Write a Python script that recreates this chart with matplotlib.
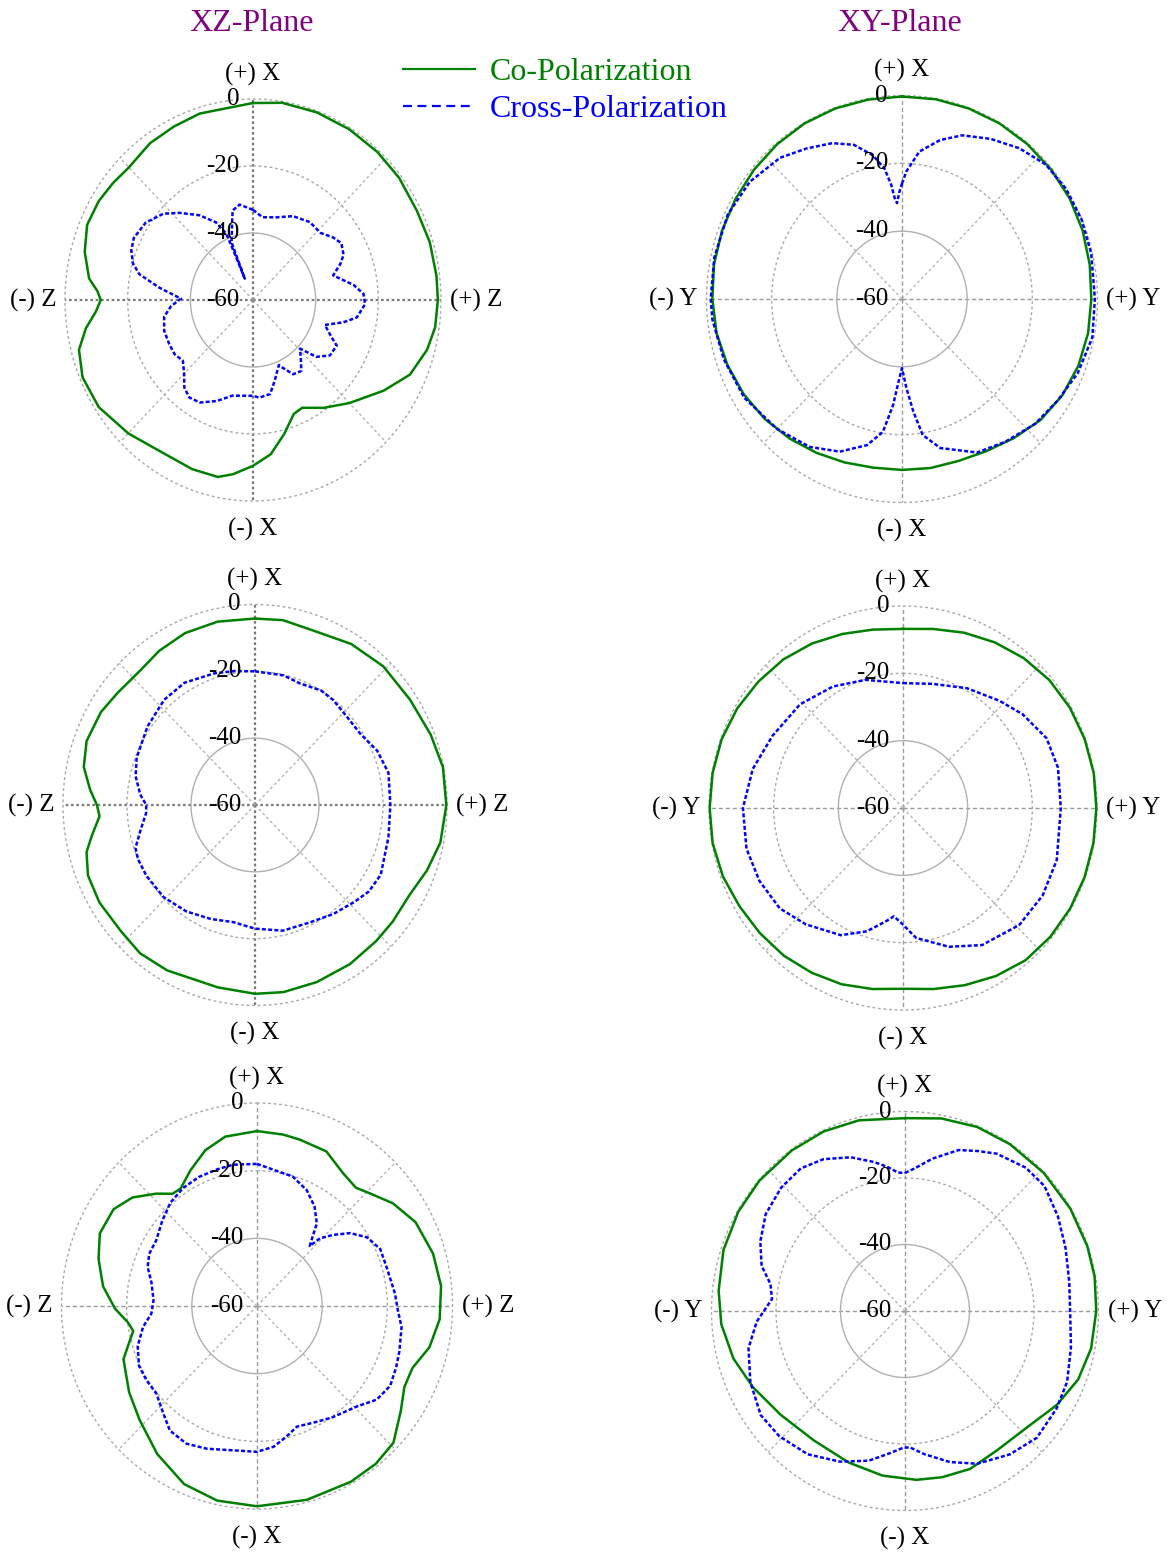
import numpy as np
import matplotlib
matplotlib.use("Agg")
import matplotlib.pyplot as plt
from matplotlib.lines import Line2D
from matplotlib.transforms import offset_copy

plt.rcParams['font.family'] = ['Liberation Serif', 'DejaVu Serif']

# ---------------------------------------------------------------- data (dB)
# angles in degrees, measured clockwise from the (+) X direction
xz1_co_deg = [0, 9, 20, 31, 42, 52, 63, 73, 83, 90, 98, 105, 114, 123, 135, 145, 154, 159, 166, 173,
              180, 187, 192, 201, 214, 225, 237, 247, 255, 261, 266, 270, 273, 277, 285, 293, 301, 308,
              315, 325, 334, 343, 354]
xz1_co_db = [-1.2, -0.4, -0.4, -0.5, -0.6, -0.8, -1.3, -1.0, -1.0, -1.0, -1.3, -2.5, -5.2, -10.3, -16.5,
             -20.7, -24.2, -23.6, -18.8, -13.6, -10.5, -7.6, -6.0, -5.9, -5.9, -3.7, -1.3, -0.9, -2.5,
             -6.0, -9.7, -11.4, -10.3, -7.3, -4.4, -2.5, -2.6, -3.3, -4.0, -2.8, -2.4, -1.8, -2.0]
xz1_cx_deg = [0, 7, 17, 27, 38, 47, 54, 59, 65, 69, 74, 82, 87, 92, 99, 103, 108, 114, 117, 124, 130,
              134, 140, 144, 150, 155, 157, 164, 169, 176, 180, 193, 201, 209, 215, 220, 225, 231, 237,
              244, 252, 260, 266, 271, 277, 282, 286, 291, 296, 304, 312, 318, 326, 333, 336.7, 337.2,
              337.6, 338.3, 342.8, 346.3, 351.5]
xz1_cx_db = [-33.1, -35.1, -34.2, -31.9, -30.5, -30.6, -28.3, -27.1, -28.1, -30.2, -33.4, -27.6, -24.7,
             -24.2, -26.5, -30.4, -35.9, -32.5, -30.0, -30.4, -33.6, -39.1, -36.2, -33.8, -34.4, -37.7,
             -38.9, -34.9, -31.4, -30.8, -31.4, -30.7, -27.7, -25.0, -24.5, -25.9, -28.9, -31.2, -30.2,
             -30.2, -30.2, -31.2, -33.8, -37.0, -29.9, -22.9, -20.1, -18.4, -17.7, -18.7, -21.5, -25.0,
             -29.5, -34.0, -38.5, -46.2, -53.1, -41.5, -37.3, -32.5, -31.2]

xy1_co_deg = list(range(0, 360, 10))
xy1_co_db = [-0.3, -0.2, -0.2, -0.2, -0.3, -0.4, -0.6, -1.0, -1.5, -1.9, -2.0, -2.4, -3.2, -4.5, -6.5,
             -8.2, -9.2, -9.4, -9.6, -9.5, -8.7, -7.6, -6.3, -5.0, -3.9, -3.0, -2.2, -1.8, -1.4, -1.2,
             -1.0, -0.7, -0.4, -0.2, -0.2, -0.3]
xy1_cx_deg = [0, 2, 7, 14, 21, 30, 39, 48, 57, 67, 77, 90, 101, 112, 122, 132, 143, 153, 165, 171, 174,
              177, 180, 182, 185, 188.5, 194, 203, 213, 225, 239, 252, 264, 270, 282, 295, 306.5, 318,
              326.5, 335, 342, 348, 352, 354.4, 355.7, 356.9, 358.5]
xy1_cx_db = [-26.0, -22.4, -16.2, -11.7, -8.3, -5.5, -2.8, -0.7, -0.1, -0.1, -0.4, -0.8, -0.5, -1.8,
             -3.6, -5.0, -7.3, -9.2, -14.5, -19.4, -26.6, -33.6, -39.6, -36.6, -28.6, -20.4, -15.6,
             -11.1, -8.0, -5.8, -3.5, -2.5, -1.5, -1.3, -1.1, -1.0, -1.9, -4.0, -6.8, -9.3, -12.2,
             -16.6, -21.1, -26.2, -30.2, -31.7, -28.5]

xz2_co_deg = [0, 9, 20, 32, 44, 57, 69, 79, 90, 101, 110, 119, 129, 137, 148, 160, 171, 180, 192, 209,
              219, 228, 239, 248, 255, 260, 266, 270, 275, 282, 290, 300, 308, 318, 327, 337, 348]
xz2_co_db = [-4.2, -4.0, -4.7, -3.2, -2.3, -2.2, -1.2, -0.2, -0.2, -1.0, -2.8, -4.7, -4.6, -4.4, -3.9,
             -3.6, -3.3, -3.5, -4.2, -3.4, -2.9, -3.6, -3.3, -3.7, -5.5, -8.3, -11.3, -10.6, -8.3, -5.3,
             -4.0, -4.4, -5.5, -6.1, -5.0, -4.1, -3.9]
xz2_cx_deg = [0, 13, 21, 31, 38, 48, 57, 67, 77, 90, 103, 118, 126, 133, 143, 154, 167, 180, 191, 202,
              214, 226, 238, 246, 251, 258, 266, 270, 275, 283, 291, 305, 318, 329, 342, 351]
xz2_cx_db = [-20.0, -20.2, -21.0, -20.0, -20.2, -21.0, -20.8, -18.5, -17.2, -17.7, -17.2, -15.5, -16.0,
             -17.5, -19.2, -20.9, -21.4, -23.0, -24.3, -23.2, -21.6, -20.3, -20.0, -20.0, -20.5, -23.4,
             -25.9, -26.0, -24.0, -21.7, -20.4, -19.0, -17.6, -17.3, -18.6, -19.4]

xy2_co_deg = list(range(0, 360, 10))
xy2_co_db = [-6.8, -6.0, -4.6, -3.2, -1.9, -0.9, -0.4, -0.2, -0.1, -0.2, -0.2, -0.2, -0.3, -0.5, -1.0,
             -2.4, -4.0, -5.4, -6.3, -5.4, -4.3, -3.5, -2.7, -2.2, -1.6, -0.7, -0.2, -0.2, -0.2, -0.3,
             -0.8, -1.6, -2.4, -3.6, -5.0, -6.2]
xy2_cx_deg = [0, 14, 29, 43, 53, 65, 76, 90, 108, 121, 134, 149, 161, 174, 181, 185, 189, 197, 207, 221,
              232, 244, 256, 270, 284, 298, 314, 329, 343]
xy2_cx_db = [-22.9, -22.0, -19.3, -16.4, -13.7, -11.0, -10.6, -11.2, -10.0, -9.6, -10.0, -12.5, -16.4,
             -21.2, -25.9, -27.7, -25.9, -21.7, -17.6, -14.2, -11.6, -10.6, -10.1, -10.5, -12.1, -14.3,
             -15.7, -17.9, -20.2]

xz3_co_deg = [0, 9, 15, 25, 34, 41, 46, 54, 63, 74, 84, 94, 103, 111, 118, 125, 134, 142, 151, 165,
              180, 192, 203, 215, 227, 237, 249, 254, 259, 263, 269, 277, 286, 294, 303, 310, 317, 322,
              326, 333, 341, 349]
xz3_co_db = [-8.3, -8.7, -9.1, -9.6, -12.7, -13.7, -12.0, -8.4, -5.4, -3.8, -3.2, -3.8, -5.7, -8.9, -8.8,
             -6.1, -1.8, -0.8, -0.6, -0.7, -0.8, -1.2, -2.8, -6.6, -10.7, -13.2, -16.1, -19.0, -21.3,
             -20.1, -16.4, -12.4, -9.4, -7.2, -7.5, -10.1, -14.6, -17.9, -18.1, -15.0, -11.3, -9.0]
xz3_cx_deg = [0, 16, 24, 31, 37, 39, 42.4, 44, 48, 53, 59, 66, 74, 85, 92, 98, 107, 113, 120, 127, 134,
              145, 152, 161, 167, 173, 180, 190, 200, 208, 216, 222, 230, 237, 244, 252, 260, 266, 273,
              282, 289, 295, 302, 311, 319, 327, 335, 343, 350]
xz3_cx_db = [-18.0, -20.2, -22.5, -25.7, -29.5, -32.4, -36.0, -32.2, -28.6, -24.2, -20.6, -18.6, -18.6,
             -17.5, -16.7, -15.2, -14.3, -13.6, -12.8, -14.0, -17.3, -19.8, -21.2, -22.3, -20.3, -18.1,
             -16.9, -16.7, -15.1, -13.9, -14.5, -17.1, -19.7, -19.6, -19.7, -21.5, -24.5, -27.5, -28.2,
             -26.9, -24.5, -23.5, -23.5, -21.5, -19.5, -18.4, -17.9, -17.8, -17.6]

xy3_co_deg = [0, 11, 22, 33, 46, 59, 71, 80, 90, 101, 111, 121, 133, 146, 157, 167, 176, 188, 201, 216,
              231, 244, 255, 266, 276, 288, 300, 311, 324, 335, 346]
xy3_co_db = [-2.0, -1.0, -0.3, -0.2, -0.2, -0.2, -0.2, -0.3, -0.7, -1.2, -2.5, -5.1, -8.5, -9.3, -8.4,
             -8.7, -9.1, -10.0, -11.2, -11.9, -10.4, -7.6, -4.9, -2.9, -1.9, -0.8, -0.3, -0.2, -0.3,
             -0.4, -0.9]
xy3_cx_deg = [0, 4, 10.5, 19, 25, 31, 41, 49, 59, 69, 80, 90, 102, 113, 122, 133, 143, 154, 163, 172,
              178, 181, 187, 194, 204, 215, 226, 235, 246, 257, 266, 275, 281, 287, 295, 304, 314, 323,
              331, 340, 348, 353, 357]
xy3_cx_db = [-18.5, -17.0, -13.4, -8.8, -6.9, -4.8, -2.9, -2.7, -4.7, -6.7, -8.3, -8.8, -7.4, -5.4, -4.6,
             -4.1, -6.0, -8.9, -12.5, -16.5, -19.0, -18.8, -16.7, -13.6, -10.4, -7.4, -5.8, -5.4, -7.5,
             -10.2, -13.9, -18.6, -17.5, -13.5, -10.5, -7.9, -6.6, -6.3, -7.8, -10.8, -14.2, -16.4, -18.3]

r_ticks = [0, -20, -40, -60]
r_tick_labels = ['0', '-20', '-40', '-60']
xz_dirs = ['(+) X', '(+) Z', '(-) X', '(-) Z']
xy_dirs = ['(+) X', '(+) Y', '(-) X', '(-) Y']
plane_titles = ['XZ-Plane', 'XY-Plane']
legend_labels = ['Co-Polarization', 'Cross-Polarization']

# ---------------------------------------------------------------- styling
W, H = 1167, 1555
CO_COLOR = '#008000'
CX_COLOR = '#0000ff'
TITLE_COLOR = '#800080'
CX_DASH = (0, (1.6, 0.9))
LABEL_SIZE = 18

fig = plt.figure(figsize=(W / 100, H / 100), dpi=100)
fig.patch.set_facecolor('white')

# centre x, centre y, half width, half height (pixels), heavy cardinal lines
layout = [
    (253, 300, 188, 201, True),
    (902, 299, 195.5, 203.5, False),
    (255, 805, 192, 200.5, True),
    (903, 808, 194, 202, False),
    (257, 1306, 195.5, 203, False),
    (905, 1311, 193.5, 199.5, False),
]

series = [
    (xz1_co_deg, xz1_co_db, xz1_cx_deg, xz1_cx_db, xz_dirs),
    (xy1_co_deg, xy1_co_db, xy1_cx_deg, xy1_cx_db, xy_dirs),
    (xz2_co_deg, xz2_co_db, xz2_cx_deg, xz2_cx_db, xz_dirs),
    (xy2_co_deg, xy2_co_db, xy2_cx_deg, xy2_cx_db, xy_dirs),
    (xz3_co_deg, xz3_co_db, xz3_cx_deg, xz3_cx_db, xz_dirs),
    (xy3_co_deg, xy3_co_db, xy3_cx_deg, xy3_cx_db, xy_dirs),
]


def closed(deg, db):
    th = np.deg2rad(np.append(deg, deg[0] + 360.0))
    return th, np.append(db, db[0])


for (cx, cy, rx, ry, heavy), (co_d, co_v, cx_d, cx_v, dirs) in zip(layout, series):
    ax = fig.add_axes([(cx - rx) / W, 1 - (cy + ry) / H, 2 * rx / W, 2 * ry / H],
                      projection='polar')
    ax.set_aspect('auto')
    ax.set_theta_zero_location('N')
    ax.set_theta_direction(-1)
    ax.set_ylim(-60, 0)
    ax.spines['polar'].set_visible(False)
    ax.set_facecolor('none')

    ax.set_xticks(np.deg2rad(np.arange(0, 360, 45)))
    ax.set_xticklabels([])
    ax.set_yticks([-40, -20, 0])
    ax.set_yticklabels([])
    ax.tick_params(length=0)
    ax.grid(True)

    for i, gl in enumerate(ax.xaxis.get_gridlines()):
        if i % 2 == 0:
            if heavy:
                gl.set(color='#7a7a7a', linewidth=1.6, linestyle=(0, (1.2, 1.2)))
            else:
                gl.set(color='#9a9a9a', linewidth=1.0, linestyle=(0, (3, 2)))
        else:
            gl.set(color='#b4b4b4', linewidth=1.0, linestyle=(0, (2, 2)))
    for gl, lvl in zip(ax.yaxis.get_gridlines(), [-40, -20, 0]):
        if lvl == -40:
            gl.set(color='#b0b0b0', linewidth=1.0, linestyle='-')
        else:
            gl.set(color='#a8a8a8', linewidth=1.0, linestyle=(0, (2, 2)))
        gl.set_clip_on(False)

    th, r = closed(co_d, co_v)
    ax.plot(th, r, color=CO_COLOR, lw=1.8, clip_on=False, zorder=3,
            solid_joinstyle='round')
    th, r = closed(cx_d, cx_v)
    ax.plot(th, r, color=CX_COLOR, lw=1.8, linestyle=CX_DASH, clip_on=False, zorder=3,
            dash_joinstyle='round')

    # radial scale labels, just left of the vertical axis
    lab_tr = offset_copy(ax.transData, fig=fig, x=-14, y=0, units='dots')
    for rv, txt in zip(r_ticks, r_tick_labels):
        ax.text(0, rv, txt, transform=lab_tr, ha='right', va='center', fontsize=LABEL_SIZE,
                color='black', zorder=4)

    # direction labels
    ax.annotate(dirs[0], xy=(0.5, 1), xycoords='axes fraction', xytext=(0, 25),
                textcoords='offset pixels', ha='center', va='center', fontsize=LABEL_SIZE)
    ax.annotate(dirs[2], xy=(0.5, 0), xycoords='axes fraction', xytext=(0, -28),
                textcoords='offset pixels', ha='center', va='center', fontsize=LABEL_SIZE)
    ax.annotate(dirs[1], xy=(1, 0.5), xycoords='axes fraction', xytext=(9, 0),
                textcoords='offset pixels', ha='left', va='center', fontsize=LABEL_SIZE)
    ax.annotate(dirs[3], xy=(0, 0.5), xycoords='axes fraction', xytext=(-9, 0),
                textcoords='offset pixels', ha='right', va='center', fontsize=LABEL_SIZE)

fig.text(251 / W, 1 - 31 / H, plane_titles[0], ha='center', va='baseline', fontsize=23,
         color=TITLE_COLOR)
fig.text(900 / W, 1 - 31 / H, plane_titles[1], ha='center', va='baseline', fontsize=23,
         color=TITLE_COLOR)

handles = [Line2D([], [], color=CO_COLOR, lw=1.6),
           Line2D([], [], color=CX_COLOR, lw=1.6, linestyle=(0, (4, 2.5)))]
fig.legend(handles, legend_labels, loc='upper left', bbox_to_anchor=(403 / W, 1 - 58 / H),
           frameon=False, fontsize=23, handlelength=2.25, handletextpad=0.47,
           labelspacing=0.22, borderpad=0, borderaxespad=0,
           labelcolor=[CO_COLOR, CX_COLOR])

fig.savefig('out.png', dpi=100, facecolor='white')
